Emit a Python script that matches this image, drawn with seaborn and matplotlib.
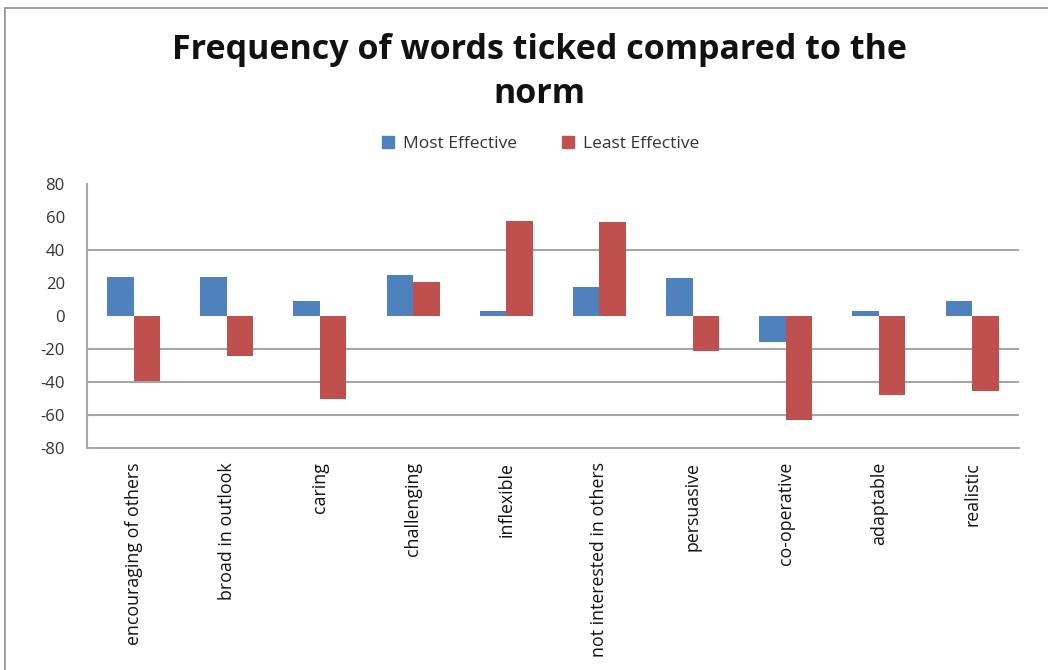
import matplotlib
matplotlib.use("Agg")
import matplotlib.pyplot as plt
import seaborn as sns
import pandas as pd
from matplotlib.patches import Rectangle

words = ["encouraging of others", "broad in outlook", "caring", "challenging",
         "inflexible", "not interested in others", "persuasive", "co-operative",
         "adaptable", "realistic"]
most_effective = [24, 24, 9, 25, 3, 18, 23, -15.5, 3, 9]
least_effective = [-39, -24, -50, 21, 58, 57, -21, -63, -48, -45.5]
series = ["Most Effective", "Least Effective"]
yticks = [80, 60, 40, 20, 0, -20, -40, -60, -80]
grid_values = [40, -20, -40, -60]

df = pd.DataFrame({
    "word": words * 2,
    "value": most_effective + least_effective,
    "series": [series[0]] * len(words) + [series[1]] * len(words),
})

sns.set_style("white")
plt.rcParams["font.family"] = ["Open Sans", "DejaVu Sans"]

fig = plt.figure(figsize=(10.48, 6.70), dpi=100)
ax = fig.add_axes([0.083, 0.331, 0.889, 0.394])

sns.barplot(data=df, x="word", y="value", hue="series", order=words,
            hue_order=series, palette=["#4f81bd", "#c0504d"], width=0.57,
            saturation=1, ax=ax, legend=False, linewidth=0)

ax.set_ylim(-80, 80)
ax.set_xlim(-0.5, len(words) - 0.5)
ax.set_yticks(yticks)
ax.set_yticklabels([str(v) for v in yticks], fontsize=12, color="#333333")
ax.set_xticks(range(len(words)))
ax.set_xticklabels(words, rotation=90, fontsize=12.8, va="top", ha="center",
                   color="#111111")
ax.tick_params(axis="x", length=0, pad=10)
ax.tick_params(axis="y", length=0, pad=16)
ax.set_xlabel("")
ax.set_ylabel("")
for g in grid_values:
    ax.axhline(g, color="#a6a6a6", linewidth=1.5, zorder=0)
for side in ["top", "right"]:
    ax.spines[side].set_visible(False)
for side in ["left", "bottom"]:
    ax.spines[side].set_color("#a6a6a6")
    ax.spines[side].set_linewidth(1.5)

fig.text(0.515, 0.926, "Frequency of words ticked compared to the", ha="center",
         va="center", fontsize=24.5, fontweight="bold", color="#111111")
fig.text(0.515, 0.860, "norm", ha="center", va="center", fontsize=24.5,
         fontweight="bold", color="#111111")

# Legend entries
handles = [Rectangle((0, 0), 1, 1, color=c) for c in ["#4f81bd", "#c0504d"]]
fig.legend(handles, series, loc="center", bbox_to_anchor=(0.516, 0.785), ncol=2,
           frameon=False, fontsize=12.5, handlelength=0.7, handleheight=0.7,
           columnspacing=2.6, handletextpad=0.5, labelcolor="#333333")

# Chart frame
fig.add_artist(Rectangle((0.005, -0.1), 1.2, 1.088, transform=fig.transFigure,
                         fill=False, edgecolor="#8c8c8c", linewidth=1.2))

fig.savefig("out.png", dpi=100, facecolor="white")
